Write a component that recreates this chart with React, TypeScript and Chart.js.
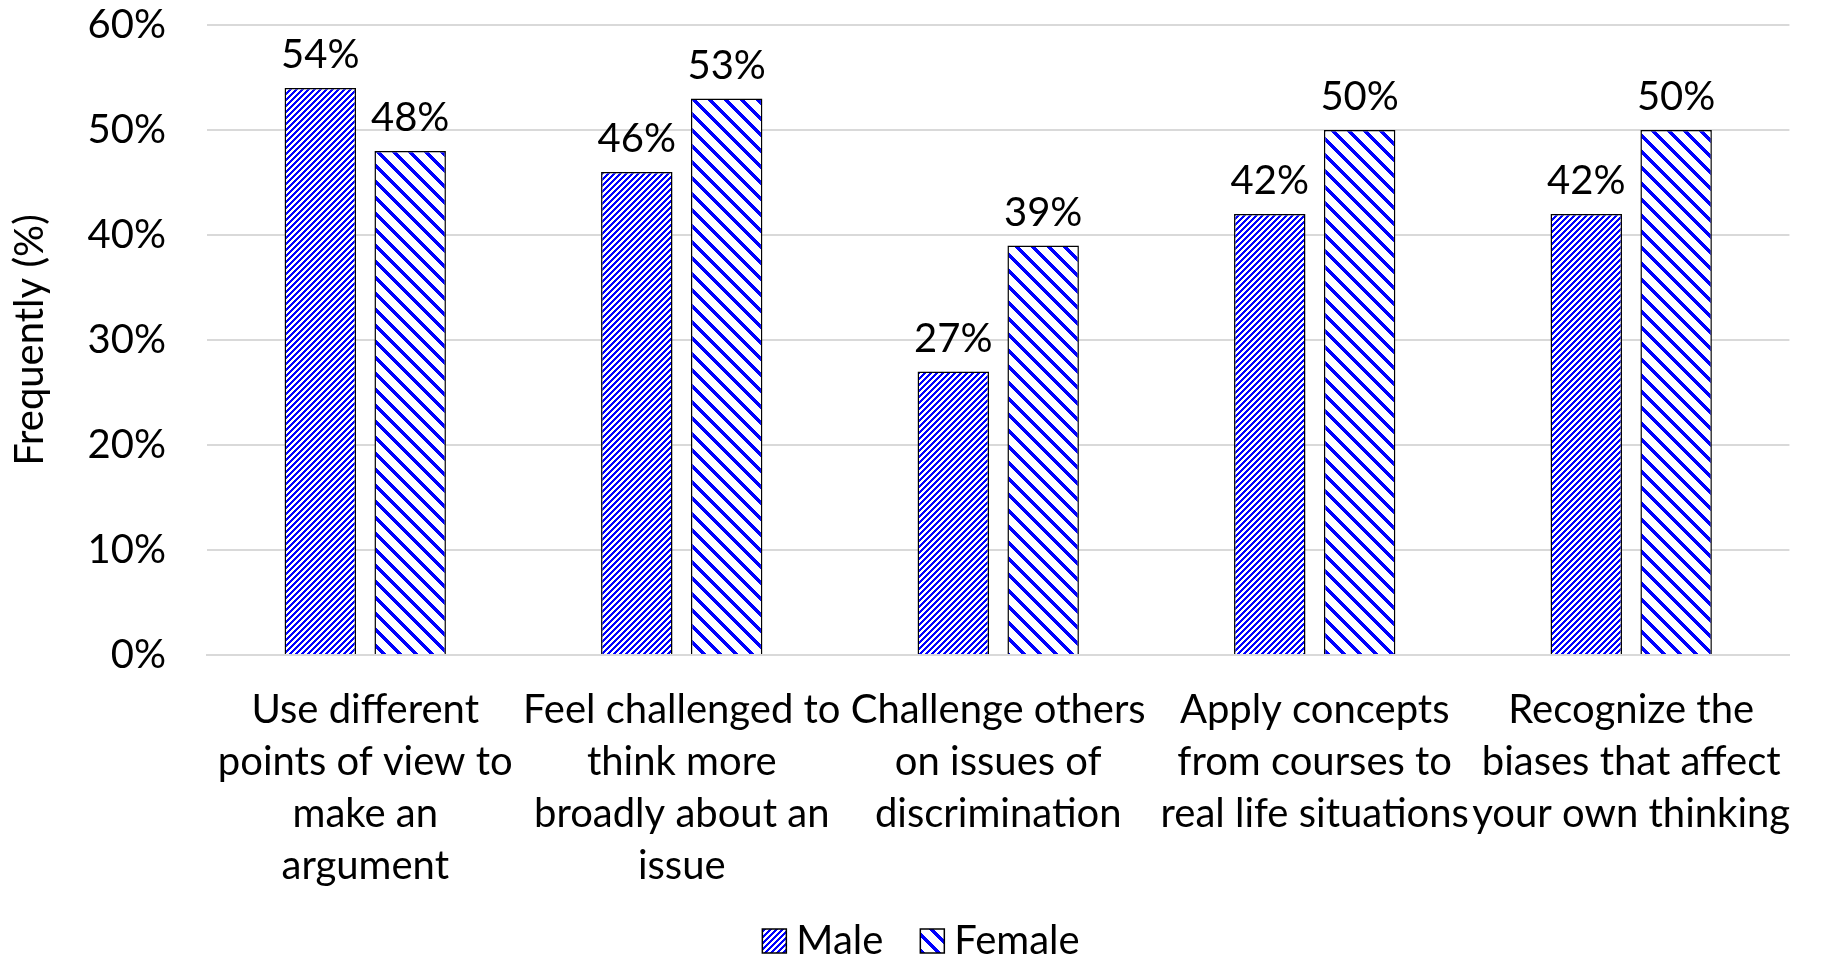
import React, { useEffect, useRef } from "react";
import { Chart, registerables } from "chart.js";

Chart.register(...registerables);

const categories: string[][] = [
  ["Use different", "points of view to", "make an", "argument"],
  ["Feel challenged to", "think more", "broadly about an", "issue"],
  ["Challenge others", "on issues of", "discrimination"],
  ["Apply concepts", "from courses to", "real life situations"],
  ["Recognize the", "biases that affect", "your own thinking"],
];
const maleValues = [54, 46, 27, 42, 42];
const femaleValues = [48, 53, 39, 50, 50];
const seriesNames = ["Male", "Female"];
const yTicks = [0, 10, 20, 30, 40, 50, 60];
const yTitle = "Frequently (%)";

const FONT = "Lato, 'Open Sans', sans-serif";
const BLUE = "#0000ff";

function makePattern(n: number, w: number, up: boolean): CanvasPattern | string {
  const c = document.createElement("canvas");
  c.width = n;
  c.height = n;
  const ctx = c.getContext("2d");
  if (!ctx) return BLUE;
  const img = ctx.createImageData(n, n);
  for (let y = 0; y < n; y++) {
    for (let x = 0; x < n; x++) {
      const k = up ? (x + y) % n : (((x - y) % n) + n) % n;
      const i = (y * n + x) * 4;
      if (k < w) {
        img.data[i] = 0; img.data[i + 1] = 0; img.data[i + 2] = 255;
      } else {
        img.data[i] = 255; img.data[i + 1] = 255; img.data[i + 2] = 255;
      }
      img.data[i + 3] = 255;
    }
  }
  ctx.putImageData(img, 0, 0);
  const p = ctx.createPattern(c, "repeat");
  return p || BLUE;
}

const valueLabels = {
  id: "valueLabels",
  afterDatasetsDraw(chart: any) {
    const ctx = chart.ctx;
    ctx.save();
    ctx.font = `40px ${FONT}`;
    ctx.fillStyle = "#000";
    ctx.textAlign = "center";
    ctx.textBaseline = "alphabetic";
    chart.data.datasets.forEach((ds: any, di: number) => {
      const meta = chart.getDatasetMeta(di);
      meta.data.forEach((el: any, i: number) => {
        ctx.fillText(`${ds.data[i]}%`, el.x, el.y - 20);
      });
    });
    ctx.restore();
  },
};

const customLegend = {
  id: "customLegend",
  afterDraw(chart: any) {
    const ctx = chart.ctx;
    ctx.save();
    ctx.font = `40px ${FONT}`;
    ctx.textBaseline = "middle";
    ctx.textAlign = "left";
    const box = 24;
    const gap = 10;
    const itemGap = 37;
    const ds = chart.data.datasets;
    const widths = ds.map((d: any) => box + gap + ctx.measureText(d.label).width);
    const total = widths.reduce((a: number, b: number) => a + b, 0) + itemGap * (ds.length - 1);
    let x = 921 - total / 2;
    const cy = 941;
    ds.forEach((d: any, i: number) => {
      ctx.fillStyle = d.backgroundColor;
      ctx.fillRect(x, cy - box / 2, box, box);
      ctx.strokeStyle = "#000";
      ctx.lineWidth = 1.5;
      ctx.strokeRect(x, cy - box / 2, box, box);
      ctx.fillStyle = "#000";
      ctx.fillText(d.label, x + box + gap, cy);
      x += widths[i] + itemGap;
    });
    ctx.restore();
  },
};

export default function App() {
  const ref = useRef<HTMLCanvasElement | null>(null);
  useEffect(() => {
    if (!ref.current) return;
    const malePat = makePattern(6, 3, true);
    const femalePat = makePattern(16, 5, false);
    const chart = new Chart(ref.current, {
      type: "bar",
      data: {
        labels: categories,
        datasets: [
          {
            label: seriesNames[0],
            data: maleValues,
            backgroundColor: malePat as any,
            borderColor: "#000",
            borderWidth: 1.5,
            barPercentage: 0.795,
            categoryPercentage: 0.568,
          },
          {
            label: seriesNames[1],
            data: femaleValues,
            backgroundColor: femalePat as any,
            borderColor: "#000",
            borderWidth: 1.5,
            barPercentage: 0.795,
            categoryPercentage: 0.568,
          },
        ],
      },
      options: {
        animation: false,
        responsive: true,
        maintainAspectRatio: false,
        layout: { padding: { left: 0, right: 19, top: 25, bottom: 48 } },
        plugins: {
          tooltip: { enabled: false },
          legend: { display: false },
        },
        scales: {
          x: {
            grid: { display: false, drawTicks: false },
            border: { display: true, color: "#d9d9d9", width: 2 },
            ticks: {
              color: "#000",
              font: { family: FONT, size: 40, lineHeight: 1.3 },
              padding: 29,
              maxRotation: 0,
              minRotation: 0,
              autoSkip: false,
            },
            afterFit: (s: any) => {
              s.height = 255;
            },
          },
          y: {
            min: 0,
            max: 60,
            afterBuildTicks: (s: any) => {
              s.ticks = yTicks.map((v) => ({ value: v }));
            },
            grid: {
              color: "#d9d9d9",
              lineWidth: 2,
              drawTicks: true,
              tickLength: 41,
              tickColor: "rgba(0,0,0,0)",
            },
            border: { display: false },
            ticks: {
              color: "#000",
              font: { family: FONT, size: 40 },
              padding: 0,
              callback: (v: any) => `${v}%`,
            },
            title: {
              display: true,
              text: yTitle,
              color: "#000",
              font: { family: FONT, size: 40 },
              padding: { top: 6, bottom: 0 },
            },
            afterFit: (s: any) => {
              s.width = 207;
            },
          },
        },
      },
      plugins: [valueLabels, customLegend],
    });
    return () => chart.destroy();
  }, []);
  return (
    <div style={{ position: "fixed", left: 0, top: 0, width: 1821, height: 958, background: "#fff" }}>
      <canvas ref={ref} />
    </div>
  );
}
